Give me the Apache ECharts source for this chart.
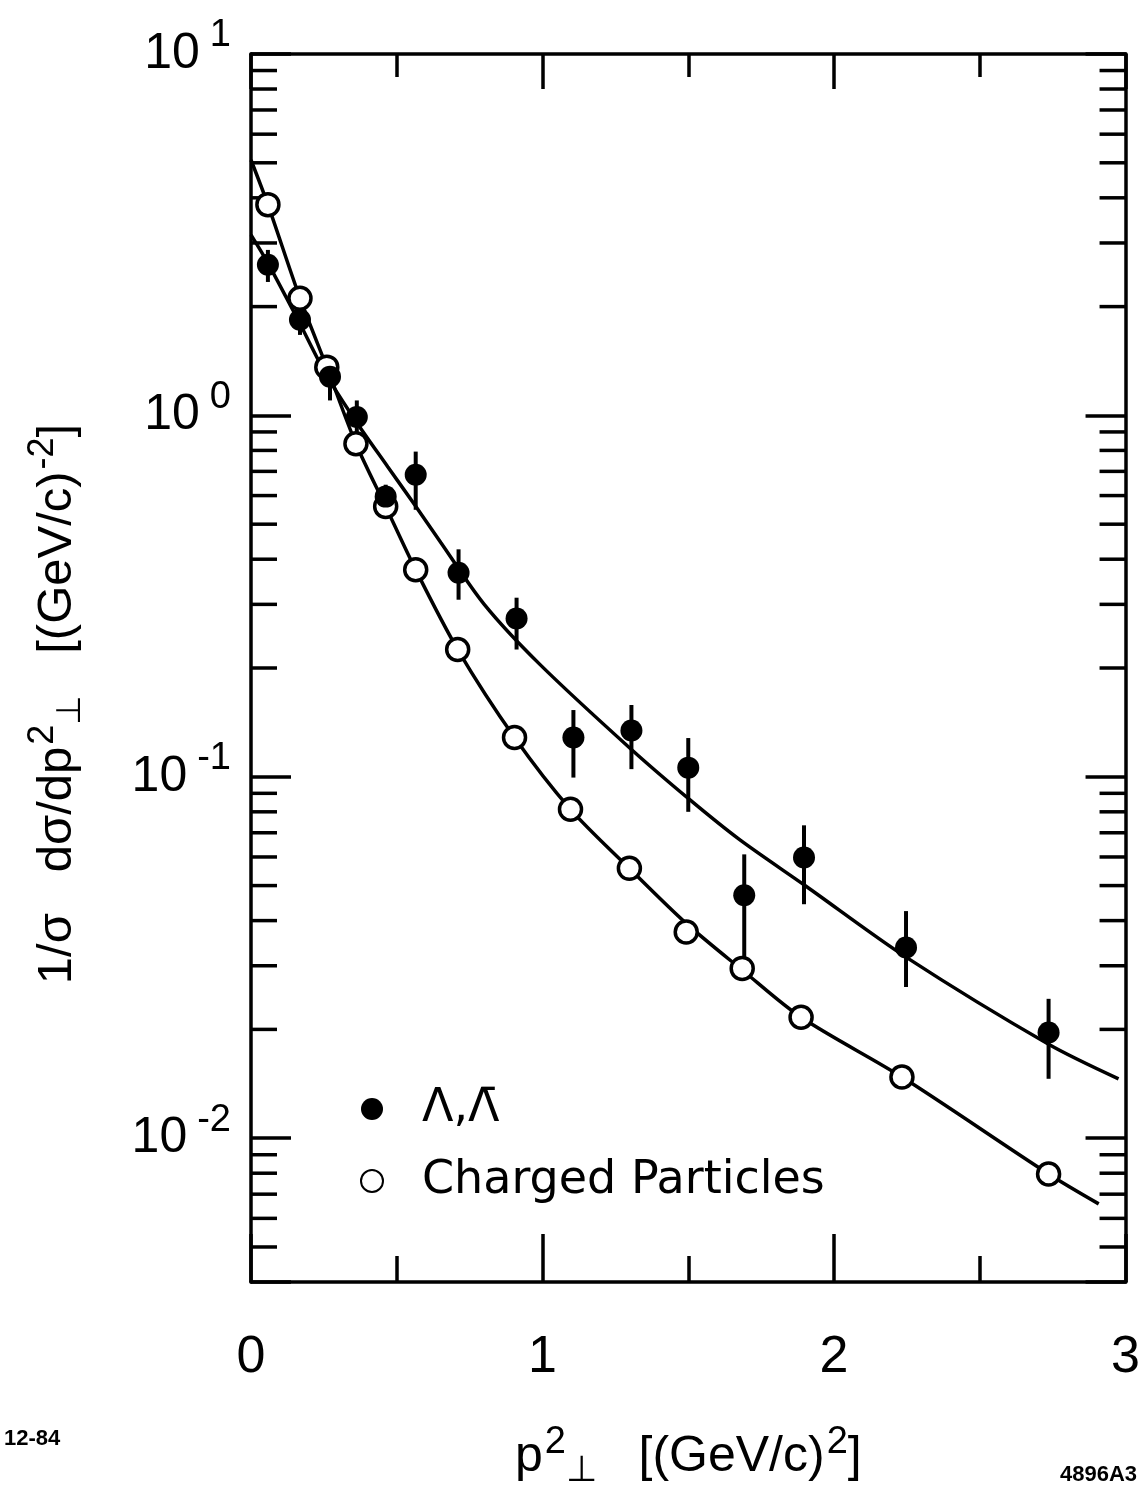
<!DOCTYPE html>
<html>
<head>
<meta charset="utf-8">
<script src="https://cdn.jsdelivr.net/npm/echarts@6.0.0/dist/echarts.min.js"></script>
<style>
  html, body { margin: 0; padding: 0; background: #fff; }
  #chart { width: 1143px; height: 1494px; }
</style>
</head>
<body>
<div id="chart"></div>
<script>
// Λ, Λbar data (filled circles) with vertical error bars
const lambdaX  = [0.058, 0.168, 0.271, 0.363, 0.462, 0.565, 0.712, 0.911, 1.106, 1.305, 1.500, 1.692, 1.897, 2.247, 2.736];
const lambdaY  = [2.61, 1.84, 1.28, 0.99, 0.596, 0.685, 0.367, 0.274, 0.1285, 0.1343, 0.106, 0.047, 0.0598, 0.0337, 0.0196];
const lambdaHi = [2.87, 2.02, 1.41, 1.10, 0.643, 0.794, 0.426, 0.313, 0.153, 0.158, 0.128, 0.061, 0.0734, 0.0425, 0.0243];
const lambdaLo = [2.34, 1.67, 1.10, 0.90, 0.548, 0.548, 0.309, 0.225, 0.0995, 0.105, 0.080, 0.0275, 0.0444, 0.0262, 0.0146];

// charged particles (open circles)
const chargedX = [0.058, 0.168, 0.260, 0.360, 0.462, 0.565, 0.709, 0.904, 1.096, 1.298, 1.493, 1.685, 1.887, 2.233, 2.736];
const chargedY = [3.83, 2.11, 1.36, 0.835, 0.560, 0.374, 0.225, 0.1285, 0.0813, 0.0558, 0.0372, 0.0295, 0.0216, 0.01476, 0.00796];

// fitted curves
const lambdaFitX  = [0, 0.058, 0.161, 0.257, 0.356, 0.469, 0.562, 0.651, 0.800, 0.990, 1.305, 1.503, 1.675, 1.904, 2.247, 2.736, 2.976];
const lambdaFitY  = [3.16, 2.64, 1.84, 1.30, 0.973, 0.721, 0.565, 0.445, 0.300, 0.205, 0.119, 0.0867, 0.0671, 0.0498, 0.0317, 0.0182, 0.0146];
const chargedFitX = [0, 0.058, 0.168, 0.260, 0.360, 0.462, 0.565, 0.709, 0.904, 1.096, 1.298, 1.493, 1.685, 1.887, 2.233, 2.736, 2.908];
const chargedFitY = [5.09, 3.83, 2.11, 1.36, 0.835, 0.560, 0.374, 0.225, 0.1285, 0.0813, 0.0558, 0.0393, 0.0292, 0.0216, 0.01476, 0.00796, 0.00658];

// axes
const xTickLabels = ['0', '1', '2', '3'];
const yMin = 0.004, yMax = 10;
const minorMult = [2, 3, 4, 5, 6, 7, 8, 9];
const decades = [-3, -2, -1, 0];

const FONT = 'Liberation Sans';
const LW = 3.5;

const zip = (a, b) => a.map((v, i) => [v, b[i]]);

let minorTicks = [];
decades.forEach(d => {
  minorMult.forEach(m => {
    const v = m * Math.pow(10, d);
    if (v > yMin * 1.0001 && v < yMax) minorTicks.push([0, v]);
  });
});

const myChart = echarts.init(document.getElementById('chart'));

const isPow10 = v => {
  const e = Math.log10(v);
  return Math.abs(e - Math.round(e)) < 1e-6;
};

const xCommon = {
  type: 'value', min: 0, max: 3, interval: 1,
  axisLine: { show: true, onZero: false, lineStyle: { color: '#000', width: LW } },
  splitLine: { show: false }
};
const yCommon = {
  type: 'log', logBase: 10, min: yMin, max: yMax,
  axisLine: { show: true, onZero: false, lineStyle: { color: '#000', width: LW } },
  splitLine: { show: false }
};

myChart.setOption({
  animation: false,
  backgroundColor: '#fff',
  grid: { left: 251, right: 16, top: 54, bottom: 211 },
  xAxis: [
    Object.assign({}, xCommon, {
      position: 'bottom',
      axisTick: { show: true, inside: true, length: 48, lineStyle: { color: '#000', width: LW } },
      minorTick: { show: true, splitNumber: 2, length: 26, lineStyle: { color: '#000', width: LW } },
      axisLabel: {
        margin: 50, color: '#000', fontFamily: FONT, fontSize: 52,
        formatter: v => xTickLabels[Math.round(v)]
      },
      name: '{n|p}{sup|2}{sub|⊥}{n|   [(GeV/c)}{sup|2}{n|]}',
      nameLocation: 'middle',
      nameGap: 142,
      nameTextStyle: {
        rich: {
          n: { fontFamily: FONT, fontSize: 50, color: '#000', lineHeight: 62 },
          sup: { fontFamily: FONT, fontSize: 38, color: '#000', padding: [0, 0, 28, 2] },
          sub: { fontFamily: FONT, fontSize: 36, color: '#000', padding: [28, 0, 0, 0] }
        }
      }
    }),
    Object.assign({}, xCommon, {
      position: 'top',
      axisTick: { show: true, inside: true, length: 35, lineStyle: { color: '#000', width: LW } },
      minorTick: { show: true, splitNumber: 2, length: 23, lineStyle: { color: '#000', width: LW } },
      axisLabel: { show: false }
    })
  ],
  yAxis: [
    Object.assign({}, yCommon, {
      position: 'left',
      axisTick: { show: true, inside: true, length: 40, lineStyle: { color: '#000', width: LW } },
      axisLabel: {
        margin: 20, color: '#000',
        formatter: v => isPow10(v) ? '{b|10}{s|' + Math.round(Math.log10(v)) + '}' : '',
        rich: {
          b: { fontFamily: FONT, fontSize: 50, color: '#000' },
          s: { fontFamily: FONT, fontSize: 38, color: '#000', padding: [0, 0, 36, 10] }
        }
      },
      name: '{n|1/σ   dσ/dp}{sup|2}{sub|⊥}{n|   [(GeV/c)}{sup|-2}{n|]}',
      nameLocation: 'middle',
      nameRotate: 90,
      nameGap: 162,
      nameTextStyle: {
        padding: [0, 72, 0, 0],
        rich: {
          n: { fontFamily: FONT, fontSize: 49, color: '#000', lineHeight: 62 },
          sup: { fontFamily: FONT, fontSize: 36, color: '#000', padding: [0, 0, 28, 2] },
          sub: { fontFamily: FONT, fontSize: 34, color: '#000', padding: [28, 0, 0, 0] }
        }
      }
    }),
    Object.assign({}, yCommon, {
      position: 'right',
      axisTick: { show: true, inside: true, length: 40, lineStyle: { color: '#000', width: LW } },
      axisLabel: { show: false }
    })
  ],
  legend: {
    data: ['Λ,Λ̄', 'Charged Particles'],
    orient: 'vertical',
    left: 355, top: 1078,
    itemWidth: 22, itemHeight: 22, itemGap: 20,
    selectedMode: false,
    textStyle: { fontFamily: 'DejaVu Sans', fontSize: 46, color: '#000', lineHeight: 52, padding: [0, 0, 0, 34] }
  },
  series: [
    {
      name: 'minor ticks',
      type: 'custom',
      data: minorTicks,
      silent: true,
      z: 1,
      renderItem: (params, api) => {
        const v = api.value(1);
        const l = api.coord([0, v]);
        const r = api.coord([3, v]);
        const st = { stroke: '#000', lineWidth: LW };
        return {
          type: 'group',
          children: [
            { type: 'line', shape: { x1: l[0], y1: l[1], x2: l[0] + 26, y2: l[1] }, style: st },
            { type: 'line', shape: { x1: r[0] - 26, y1: r[1], x2: r[0], y2: r[1] }, style: st }
          ]
        };
      }
    },
    {
      name: 'lambda fit',
      type: 'line',
      data: zip(lambdaFitX, lambdaFitY),
      smooth: 0.3,
      showSymbol: false,
      lineStyle: { color: '#000', width: LW },
      z: 2
    },
    {
      name: 'charged fit',
      type: 'line',
      data: zip(chargedFitX, chargedFitY),
      smooth: 0.3,
      showSymbol: false,
      lineStyle: { color: '#000', width: LW },
      z: 2
    },
    {
      name: 'lambda errors',
      type: 'custom',
      data: lambdaX.map((x, i) => [x, lambdaLo[i], lambdaHi[i]]),
      encode: { x: 0, y: [1, 2] },
      z: 3,
      renderItem: (params, api) => {
        const lo = api.coord([api.value(0), api.value(1)]);
        const hi = api.coord([api.value(0), api.value(2)]);
        return {
          type: 'line',
          shape: { x1: lo[0], y1: lo[1], x2: hi[0], y2: hi[1] },
          style: { stroke: '#000', lineWidth: 4 }
        };
      }
    },
    {
      name: 'Charged Particles',
      type: 'scatter',
      data: zip(chargedX, chargedY),
      symbol: 'circle',
      symbolSize: 22,
      itemStyle: { color: '#fff', borderColor: '#000', borderWidth: LW, opacity: 1 },
      z: 4
    },
    {
      name: 'Λ,Λ̄',
      type: 'scatter',
      data: zip(lambdaX, lambdaY),
      symbol: 'circle',
      symbolSize: 22,
      itemStyle: { color: '#000', opacity: 1 },
      z: 5
    }
  ],
  graphic: [
    { type: 'text', left: 4, top: 1428, style: { text: '12-84', font: 'bold 22px "Liberation Sans"', fill: '#000' } },
    { type: 'text', right: 6, top: 1464, style: { text: '4896A3', font: 'bold 22px "Liberation Sans"', fill: '#000' } }
  ]
});
</script>
</body>
</html>
